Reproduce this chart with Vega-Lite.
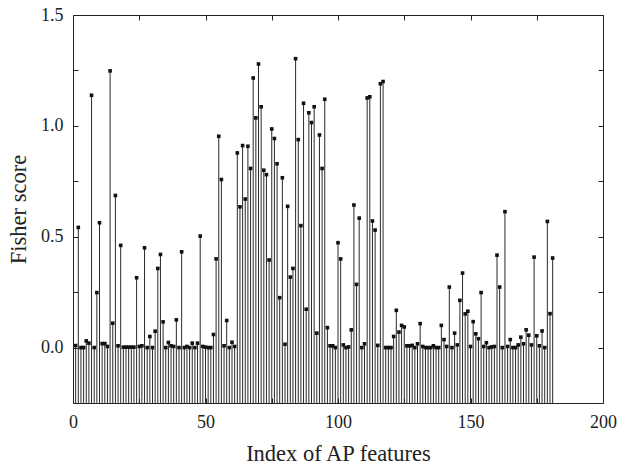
{
  "$schema": "https://vega.github.io/schema/vega-lite/v6.json",
  "autosize": {"type": "none"},
  "padding": {"left": 73, "top": 15, "right": 16, "bottom": 62},
  "width": 530,
  "height": 388,
  "config": {
    "view": {"stroke": null},
    "font": "Liberation Serif",
    "axis": {
      "grid": false,
      "domainColor": "#222",
      "domainWidth": 1,
      "tickColor": "#222",
      "tickSize": -5,
      "labelFont": "Liberation Serif",
      "labelFontSize": 18,
      "labelColor": "#222",
      "titleFont": "Liberation Serif",
      "titleFontSize": 22.5,
      "titleFontWeight": "normal",
      "titleColor": "#222",
      "labelFlush": false,
      "labelOverlap": false
    }
  },
  "data": {"values": [
    {"i":1,"v":0.009},{"i":2,"v":0.542},{"i":3,"v":0.0},{"i":4,"v":0.0},{"i":5,"v":0.03},
    {"i":6,"v":0.02},{"i":7,"v":1.138},{"i":8,"v":0.0},{"i":9,"v":0.248},{"i":10,"v":0.563},
    {"i":11,"v":0.018},{"i":12,"v":0.018},{"i":13,"v":0.005},{"i":14,"v":1.248},{"i":15,"v":0.11},
    {"i":16,"v":0.686},{"i":17,"v":0.008},{"i":18,"v":0.461},{"i":19,"v":0.002},{"i":20,"v":0.002},
    {"i":21,"v":0.002},{"i":22,"v":0.002},{"i":23,"v":0.002},{"i":24,"v":0.315},{"i":25,"v":0.005},
    {"i":26,"v":0.008},{"i":27,"v":0.45},{"i":28,"v":0.0},{"i":29,"v":0.05},{"i":30,"v":0.0},
    {"i":31,"v":0.074},{"i":32,"v":0.357},{"i":33,"v":0.42},{"i":34,"v":0.116},{"i":35,"v":0.0},
    {"i":36,"v":0.023},{"i":37,"v":0.008},{"i":38,"v":0.005},{"i":39,"v":0.125},{"i":40,"v":0.0},
    {"i":41,"v":0.432},{"i":42,"v":0.0},{"i":43,"v":0.005},{"i":44,"v":0.0},{"i":45,"v":0.02},
    {"i":46,"v":0.0},{"i":47,"v":0.02},{"i":48,"v":0.503},{"i":49,"v":0.005},{"i":50,"v":0.002},
    {"i":51,"v":0.0},{"i":52,"v":0.0},{"i":53,"v":0.059},{"i":54,"v":0.4},{"i":55,"v":0.953},
    {"i":56,"v":0.758},{"i":57,"v":0.008},{"i":58,"v":0.122},{"i":59,"v":0.0},{"i":60,"v":0.024},
    {"i":61,"v":0.005},{"i":62,"v":0.878},{"i":63,"v":0.635},{"i":64,"v":0.911},{"i":65,"v":0.67},
    {"i":66,"v":0.908},{"i":67,"v":0.808},{"i":68,"v":1.216},{"i":69,"v":1.036},{"i":70,"v":1.279},
    {"i":71,"v":1.086},{"i":72,"v":0.8},{"i":73,"v":0.78},{"i":74,"v":0.395},{"i":75,"v":0.986},
    {"i":76,"v":0.943},{"i":77,"v":0.829},{"i":78,"v":0.225},{"i":79,"v":0.766},{"i":80,"v":0.015},
    {"i":81,"v":0.637},{"i":82,"v":0.318},{"i":83,"v":0.357},{"i":84,"v":1.303},{"i":85,"v":0.938},
    {"i":86,"v":0.55},{"i":87,"v":1.102},{"i":88,"v":0.173},{"i":89,"v":1.059},{"i":90,"v":1.015},
    {"i":91,"v":1.086},{"i":92,"v":0.065},{"i":93,"v":0.959},{"i":94,"v":0.808},{"i":95,"v":1.12},
    {"i":96,"v":0.09},{"i":97,"v":0.008},{"i":98,"v":0.008},{"i":99,"v":0.0},{"i":100,"v":0.473},
    {"i":101,"v":0.4},{"i":102,"v":0.012},{"i":103,"v":0.0},{"i":104,"v":0.003},{"i":105,"v":0.08},
    {"i":106,"v":0.643},{"i":107,"v":0.285},{"i":108,"v":0.584},{"i":109,"v":0.0},{"i":110,"v":0.017},
    {"i":111,"v":1.126},{"i":112,"v":1.131},{"i":113,"v":0.571},{"i":114,"v":0.53},{"i":115,"v":0.01},
    {"i":116,"v":1.19},{"i":117,"v":1.2},{"i":118,"v":0.0},{"i":119,"v":0.0},{"i":120,"v":0.0},
    {"i":121,"v":0.05},{"i":122,"v":0.168},{"i":123,"v":0.07},{"i":124,"v":0.1},{"i":125,"v":0.093},
    {"i":126,"v":0.008},{"i":127,"v":0.008},{"i":128,"v":0.01},{"i":129,"v":0.0},{"i":130,"v":0.017},
    {"i":131,"v":0.108},{"i":132,"v":0.005},{"i":133,"v":0.0},{"i":134,"v":0.0},{"i":135,"v":0.0},
    {"i":136,"v":0.008},{"i":137,"v":0.0},{"i":138,"v":0.0},{"i":139,"v":0.1},{"i":140,"v":0.036},
    {"i":141,"v":0.005},{"i":142,"v":0.273},{"i":143,"v":0.0},{"i":144,"v":0.065},{"i":145,"v":0.012},
    {"i":146,"v":0.213},{"i":147,"v":0.336},{"i":148,"v":0.152},{"i":149,"v":0.164},{"i":150,"v":0.005},
    {"i":151,"v":0.117},{"i":152,"v":0.062},{"i":153,"v":0.04},{"i":154,"v":0.248},{"i":155,"v":0.005},
    {"i":156,"v":0.022},{"i":157,"v":0.0},{"i":158,"v":0.003},{"i":159,"v":0.005},{"i":160,"v":0.417},
    {"i":161,"v":0.273},{"i":162,"v":0.0},{"i":163,"v":0.613},{"i":164,"v":0.005},{"i":165,"v":0.036},
    {"i":166,"v":0.0},{"i":167,"v":0.0},{"i":168,"v":0.012},{"i":169,"v":0.047},{"i":170,"v":0.017},
    {"i":171,"v":0.08},{"i":172,"v":0.056},{"i":173,"v":0.012},{"i":174,"v":0.408},{"i":175,"v":0.053},
    {"i":176,"v":0.008},{"i":177,"v":0.075},{"i":178,"v":0.0},{"i":179,"v":0.569},{"i":180,"v":0.153},
    {"i":181,"v":0.404}
  ]},
  "resolve": {"axis": {"x": "independent", "y": "independent"}},
  "layer": [
    {
      "mark": {"type": "rule", "color": "#2a2a2a", "strokeWidth": 1},
      "encoding": {
        "x": {"field": "i", "type": "quantitative",
              "scale": {"domain": [0, 200], "nice": false, "zero": false},
              "axis": {"orient": "bottom", "values": [0,25,50,75,100,125,150,175,200],
                       "labelExpr": "datum.value % 50 === 0 ? datum.label : ''",
                       "labelPadding": 15, "title": "Index of AP features", "titlePadding": 11}},
        "y": {"field": "v", "type": "quantitative",
              "scale": {"domain": [-0.25, 1.5], "nice": false, "zero": false},
              "axis": {"orient": "left", "values": [0,0.25,0.5,0.75,1,1.25,1.5],
                       "labelExpr": "datum.value % 0.5 === 0 ? format(datum.value, '.1f') : ''",
                       "labelPadding": 15, "title": "Fisher score", "titlePadding": 10}},
        "y2": {"datum": -0.25}
      }
    },
    {
      "mark": {"type": "point", "shape": "square", "filled": true, "color": "#111", "size": 13, "opacity": 1},
      "encoding": {
        "x": {"field": "i", "type": "quantitative",
              "axis": {"orient": "top", "values": [0,25,50,75,100,125,150,175,200], "labels": false, "title": null}},
        "y": {"field": "v", "type": "quantitative",
              "axis": {"orient": "right", "values": [0,0.25,0.5,0.75,1,1.25,1.5], "labels": false, "title": null}}
      }
    }
  ]
}
